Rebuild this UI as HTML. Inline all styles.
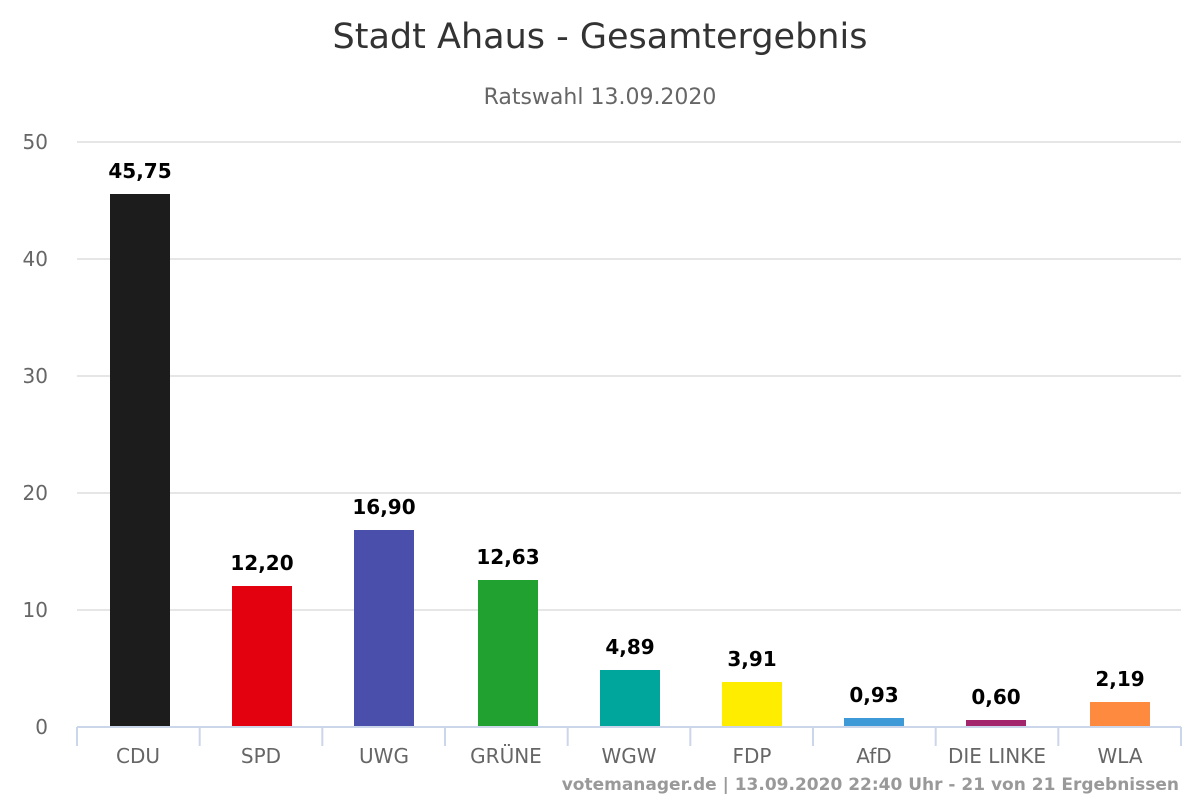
<!DOCTYPE html>
<html><head><meta charset="utf-8"><style>html,body{margin:0;padding:0;background:#fff}svg{display:block}</style></head>
<body>
<svg width="1200" height="800" xmlns="http://www.w3.org/2000/svg" font-family="'DejaVu Sans', 'Liberation Sans', sans-serif">
<rect width="1200" height="800" fill="#fff"/>
<text x="600" y="48" text-anchor="middle" font-size="35" fill="#333">Stadt Ahaus - Gesamtergebnis</text>
<text x="600" y="104" text-anchor="middle" font-size="22" fill="#666">Ratswahl 13.09.2020</text>
<g stroke="#e6e6e6" stroke-width="2">
<line x1="77" x2="1181" y1="142" y2="142"/><line x1="77" x2="1181" y1="259" y2="259"/>
<line x1="77" x2="1181" y1="376" y2="376"/><line x1="77" x2="1181" y1="493" y2="493"/>
<line x1="77" x2="1181" y1="610" y2="610"/>
</g>
<g font-size="20" fill="#666" text-anchor="end">
<text x="48" y="149">50</text><text x="48" y="266">40</text><text x="48" y="383">30</text>
<text x="48" y="500">20</text><text x="48" y="617">10</text><text x="48" y="734">0</text>
</g>
<g>
<rect x="110" y="194" width="60" height="533" fill="#1c1c1c"/>
<rect x="232" y="586" width="60" height="141" fill="#e3000f"/>
<rect x="354" y="530" width="60" height="197" fill="#4a4fac"/>
<rect x="478" y="580" width="60" height="147" fill="#20a130"/>
<rect x="600" y="670" width="60" height="57" fill="#00a59c"/>
<rect x="722" y="682" width="60" height="45" fill="#ffed00"/>
<rect x="844" y="718" width="60" height="9" fill="#3d9ad6"/>
<rect x="966" y="720" width="60" height="7" fill="#a3256b"/>
<rect x="1090" y="702" width="60" height="25" fill="#fe8a40"/>
</g>
<g font-size="20" font-weight="bold" fill="#000" text-anchor="middle">
<text x="140" y="178">45,75</text><text x="262" y="570">12,20</text><text x="384" y="514">16,90</text>
<text x="508" y="564">12,63</text><text x="630" y="654">4,89</text><text x="752" y="666">3,91</text>
<text x="874" y="702">0,93</text><text x="996" y="704">0,60</text><text x="1120" y="686">2,19</text>
</g>
<g stroke="#ccd6eb" stroke-width="2">
<line x1="77" x2="1181" y1="727" y2="727"/>
<line x1="77" x2="77" y1="727" y2="746"/><line x1="199.7" x2="199.7" y1="727" y2="746"/>
<line x1="322.3" x2="322.3" y1="727" y2="746"/><line x1="445" x2="445" y1="727" y2="746"/>
<line x1="567.7" x2="567.7" y1="727" y2="746"/><line x1="690.3" x2="690.3" y1="727" y2="746"/>
<line x1="813" x2="813" y1="727" y2="746"/><line x1="935.7" x2="935.7" y1="727" y2="746"/>
<line x1="1058.3" x2="1058.3" y1="727" y2="746"/><line x1="1181" x2="1181" y1="727" y2="746"/>
</g>
<g font-size="20" fill="#666" text-anchor="middle">
<text x="138" y="763">CDU</text><text x="261" y="763">SPD</text><text x="384" y="763">UWG</text>
<text x="506" y="763">GRÜNE</text><text x="629" y="763">WGW</text><text x="752" y="763">FDP</text>
<text x="874" y="763">AfD</text><text x="997" y="763">DIE LINKE</text><text x="1120" y="763">WLA</text>
</g>
<text x="1179" y="790" text-anchor="end" font-size="17" font-weight="bold" fill="#999">votemanager.de | 13.09.2020 22:40 Uhr - 21 von 21 Ergebnissen</text>
</svg>
</body></html>
